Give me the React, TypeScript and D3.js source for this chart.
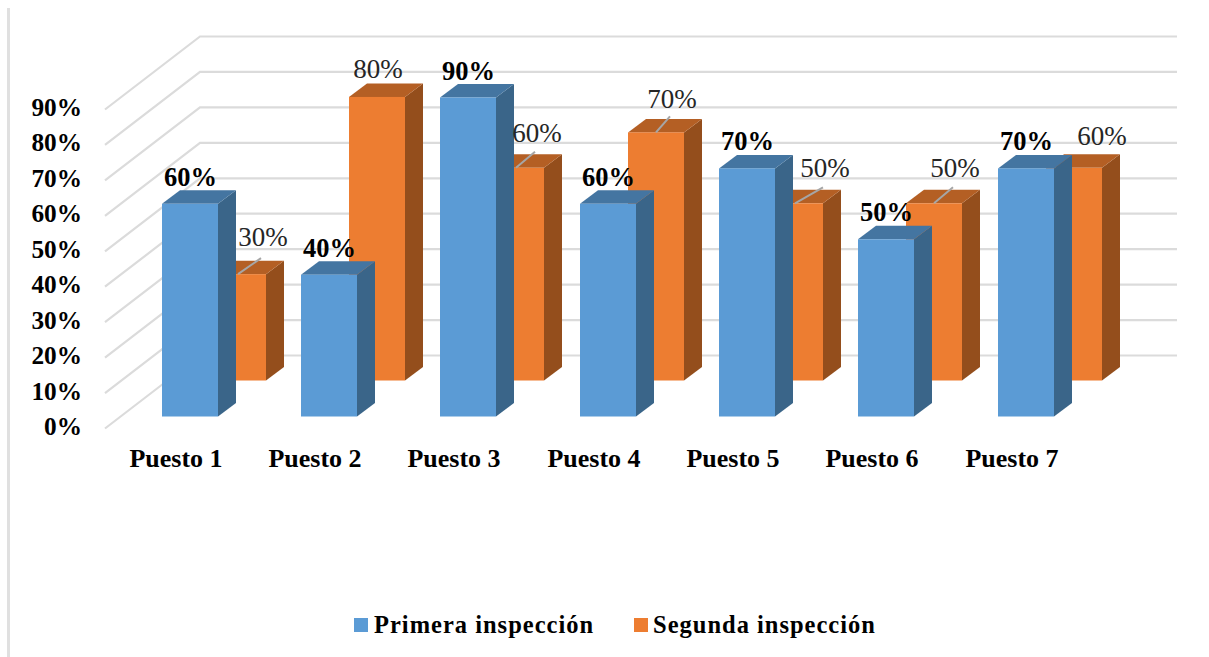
import React from "react";
import * as d3 from "d3";

const categories = ["Puesto 1", "Puesto 2", "Puesto 3", "Puesto 4", "Puesto 5", "Puesto 6", "Puesto 7"];
const primera = [60, 40, 90, 60, 70, 50, 70];
const segunda = [30, 80, 60, 70, 50, 50, 60];
const ticks = [0, 10, 20, 30, 40, 50, 60, 70, 80, 90];
const seriesNames = ["Primera inspección", "Segunda inspección"];

// label placement nudges (px) for the second series
const segNudgeX = [25, 1, 21, 16, 30, 21, 28];
const segNudgeY = [-28, -19, -26, -24, -26, -26, -23];
const segLeader = [true, false, true, true, true, true, false];

const FONT = "'Liberation Serif','Times New Roman',serif";
const BLUE = "#5b9bd5", BLUE_TOP = "#4475a1", BLUE_SIDE = "#3a6589";
const OR = "#ed7d31", OR_TOP = "#b45f24", OR_SIDE = "#944e1c";
const GRID = "#dbdbdb";

const y = d3.scaleLinear().domain([0, 90]).range([416.5, 97.5]);
const x = d3.scaleBand<string>().domain(categories).range([120.2, 1095.3]).paddingInner(0).paddingOuter(0);
const barW = 56;
const groupOff = 41.5;
const depthX = 18, depthY = 13.5;
const rowX = 48, rowY = 36;

function Bar({ bx, v, base, w, c }: { bx: number; v: number; base: number; w: number; c: string[] }) {
  const top = base - (y(0) - y(v));
  const p = (pts: number[][]) => d3.line()(pts as [number, number][]) + "Z";
  return (
    <g>
      <path d={p([[bx + w, top], [bx + w + depthX, top - depthY], [bx + w + depthX, base - depthY], [bx + w, base]])} fill={c[2]} />
      <path d={p([[bx, top], [bx + depthX, top - depthY], [bx + w + depthX, top - depthY], [bx + w, top]])} fill={c[1]} />
      <rect x={bx} y={top} width={w} height={base - top} fill={c[0]} />
    </g>
  );
}

export default function App() {
  const bx = (i: number) => Math.round((x(categories[i]) as number) + groupOff);
  return (
    <svg width={1209} height={657} style={{ position: "fixed", left: 0, top: 0, background: "#fff" }} fontFamily={FONT}>
      <line x1={8.5} x2={8.5} y1={8} y2={657} stroke="#e0e0e0" strokeWidth={3} />
      {ticks.map((t) => (
        <g key={t}>
          <path d={`M105,${y(t) + 12}L200,${y(t) - 61}L1177,${y(t) - 61}`} fill="none" stroke={GRID} strokeWidth={2.2} />
          <text x={82} y={y(t) + 18.5} textAnchor="end" fontWeight="bold" fontSize={25.3} fill="#000">{t}%</text>
        </g>
      ))}
      {segunda.map((v, i) => (
        <Bar key={i} bx={bx(i) + rowX} v={v} base={y(0) - rowY} w={barW} c={[OR, OR_TOP, OR_SIDE]} />
      ))}
      {primera.map((v, i) => (
        <Bar key={i} bx={bx(i)} v={v} base={y(0)} w={barW} c={[BLUE, BLUE_TOP, BLUE_SIDE]} />
      ))}
      {segunda.map((v, i) => {
        const cx = bx(i) + rowX + barW / 2;
        const top = y(v) - rowY;
        return (
          <g key={i}>
            {segLeader[i] && (
              <line x1={cx} y1={top} x2={cx + segNudgeX[i] - 2} y2={top - 16} stroke="#a6a6a6" strokeWidth={2} />
            )}
            <text x={cx + segNudgeX[i]} y={top + segNudgeY[i]} textAnchor="middle" fontSize={27} fill="#262626">{v}%</text>
          </g>
        );
      })}
      {primera.map((v, i) => (
        <text key={i} x={bx(i) + barW / 2 + 0.5} y={y(v) - 18} textAnchor="middle" fontWeight="bold" fontSize={26.5} fill="#000">{v}%</text>
      ))}
      {categories.map((c, i) => (
        <text key={c} x={bx(i) + barW / 2 - 14} y={467} textAnchor="middle" fontWeight="bold" fontSize={26} fill="#000">{c}</text>
      ))}
      <rect x={354} y={618} width={14} height={14} fill={BLUE} />
      <text x={374} y={633} fontWeight="bold" fontSize={24.5} letterSpacing={1} fill="#000">{seriesNames[0]}</text>
      <rect x={634} y={618} width={14} height={14} fill={OR} />
      <text x={653} y={633} fontWeight="bold" fontSize={24.5} letterSpacing={1} fill="#000">{seriesNames[1]}</text>
    </svg>
  );
}
